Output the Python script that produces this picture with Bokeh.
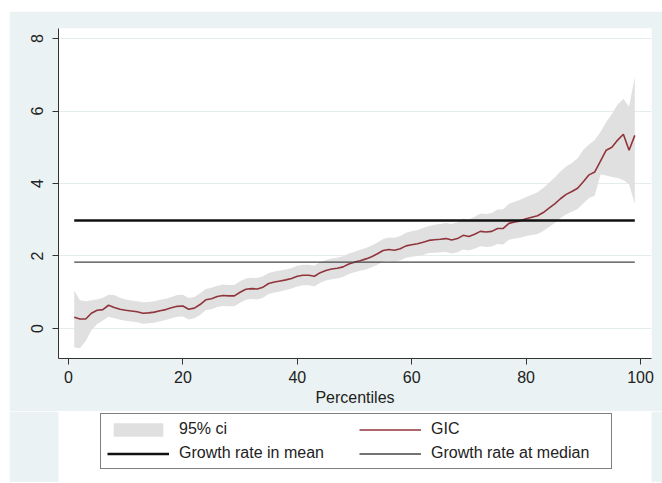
from bokeh.plotting import figure
from bokeh.models import Range1d, FixedTicker, Legend, LegendItem, Spacer
from bokeh.layouts import column, row
from bokeh.embed import file_html
from bokeh.resources import INLINE

# ---------------- data ----------------
percentiles = list(range(1, 100))

gic = [0.31, 0.26, 0.26, 0.42, 0.50, 0.52, 0.64, 0.58, 0.53, 0.50,
       0.48, 0.46, 0.42, 0.43, 0.45, 0.49, 0.52, 0.57, 0.61, 0.62,
       0.53, 0.56, 0.66, 0.79, 0.82, 0.88, 0.91, 0.90, 0.90, 1.00,
       1.08, 1.10, 1.09, 1.14, 1.24, 1.28, 1.31, 1.34, 1.38, 1.44,
       1.47, 1.47, 1.44, 1.54, 1.60, 1.64, 1.66, 1.70, 1.78, 1.83,
       1.87, 1.92, 1.98, 2.06, 2.15, 2.18, 2.16, 2.20, 2.28, 2.31,
       2.34, 2.38, 2.43, 2.45, 2.46, 2.48, 2.44, 2.48, 2.57, 2.54,
       2.60, 2.68, 2.66, 2.68, 2.76, 2.76, 2.90, 2.94, 2.97, 3.03,
       3.07, 3.11, 3.20, 3.32, 3.44, 3.58, 3.70, 3.78, 3.87, 4.05,
       4.24, 4.32, 4.62, 4.92, 5.00, 5.20, 5.36, 4.92, 5.33]

ci_upper = [1.05, 0.78, 0.75, 0.78, 0.80, 0.85, 0.93, 0.92, 0.85, 0.80,
            0.77, 0.75, 0.72, 0.73, 0.75, 0.79, 0.82, 0.87, 0.92, 0.93,
            0.84, 0.87, 0.97, 1.09, 1.12, 1.18, 1.21, 1.20, 1.20, 1.30,
            1.38, 1.40, 1.39, 1.44, 1.53, 1.57, 1.60, 1.63, 1.67, 1.73,
            1.76, 1.76, 1.73, 1.83, 1.89, 1.93, 1.95, 1.99, 2.07, 2.12,
            2.17, 2.22, 2.29, 2.37, 2.47, 2.51, 2.50, 2.55, 2.64, 2.68,
            2.72, 2.77, 2.83, 2.86, 2.88, 2.91, 2.88, 2.93, 3.03, 3.01,
            3.08, 3.17, 3.16, 3.19, 3.28, 3.29, 3.44, 3.50, 3.55, 3.63,
            3.69, 3.76, 3.88, 4.02, 4.17, 4.33, 4.47, 4.57, 4.70, 4.93,
            5.08, 5.20, 5.42, 5.70, 5.92, 6.18, 6.34, 6.12, 6.95]

ci_lower = [-0.52, -0.55, -0.35, -0.05, 0.12, 0.22, 0.32, 0.28, 0.24, 0.21,
            0.19, 0.17, 0.13, 0.14, 0.16, 0.20, 0.23, 0.28, 0.32, 0.33,
            0.25, 0.28, 0.37, 0.50, 0.53, 0.59, 0.62, 0.61, 0.61, 0.71,
            0.79, 0.81, 0.80, 0.85, 0.95, 0.99, 1.02, 1.06, 1.10, 1.16,
            1.19, 1.19, 1.16, 1.26, 1.32, 1.36, 1.38, 1.42, 1.50, 1.55,
            1.59, 1.63, 1.69, 1.76, 1.85, 1.87, 1.85, 1.88, 1.95, 1.98,
            2.00, 2.03, 2.08, 2.09, 2.10, 2.11, 2.07, 2.10, 2.18, 2.15,
            2.20, 2.27, 2.25, 2.26, 2.33, 2.32, 2.45, 2.48, 2.50, 2.55,
            2.58, 2.61, 2.69, 2.80, 2.91, 3.04, 3.15, 3.22, 3.30, 3.45,
            3.60, 3.66, 4.25, 4.22, 4.18, 4.15, 4.10, 3.98, 3.44]

mean_growth = 2.98
median_growth = 1.83

x_ticks = [0, 20, 40, 60, 80, 100]
y_ticks = [0, 2, 4, 6, 8]
x_title = "Percentiles"
legend_labels = ["95% ci", "GIC", "Growth rate in mean", "Growth rate at median"]

# ---------------- styles ----------------
BG = "#eaf2f3"
FONT = "Liberation Sans"
TXT = "#222222"
BAND = dict(fill_color="#e0e0e0")
GICS = dict(line_color="#90353b", line_width=1.6)
MEANS = dict(line_color="#111111", line_width=2.5)
MEDS = dict(line_color="#444444", line_width=1.4)


def draw_series(fig):
    band = fig.varea(x=percentiles, y1=ci_lower, y2=ci_upper, **BAND)
    gl = fig.line(x=percentiles, y=gic, **GICS)
    ml = fig.line(x=[percentiles[0], percentiles[-1]], y=[mean_growth, mean_growth], **MEANS)
    dl = fig.line(x=[percentiles[0], percentiles[-1]], y=[median_growth, median_growth], **MEDS)
    return band, gl, ml, dl


# ---------------- main chart ----------------
p = figure(width=653, height=400, output_backend="svg", toolbar_location=None,
           x_range=Range1d(-1.75, 101.92), y_range=Range1d(-0.83, 8.28),
           min_border_left=49, min_border_right=11, min_border_top=17,
           min_border_bottom=53, title=None)
p.border_fill_color = BG
p.background_fill_color = "white"
p.outline_line_color = None

draw_series(p)

p.xaxis.ticker = FixedTicker(ticks=x_ticks)
p.yaxis.ticker = FixedTicker(ticks=y_ticks)
for ax in (p.xaxis[0], p.yaxis[0]):
    ax.axis_line_color = "#333333"
    ax.axis_line_width = 1
    ax.major_tick_line_color = "#333333"
    ax.major_tick_out = 6
    ax.major_tick_in = 0
    ax.minor_tick_line_color = None
    ax.major_label_text_font = FONT
    ax.major_label_text_font_size = "16px"
    ax.major_label_text_color = TXT
p.yaxis.major_label_orientation = "vertical"
p.yaxis.major_label_standoff = 9
p.xaxis.major_label_standoff = 6
p.xaxis.axis_label = x_title
p.xaxis.axis_label_text_font = FONT
p.xaxis.axis_label_text_font_size = "16px"
p.xaxis.axis_label_text_font_style = "normal"
p.xaxis.axis_label_text_color = TXT
p.xaxis.axis_label_standoff = 3

p.xgrid.grid_line_color = None
p.ygrid.ticker = FixedTicker(ticks=y_ticks)
p.ygrid.grid_line_color = "#e4ecee"
p.ygrid.grid_line_width = 1

# ---------------- legend strip (same series, kept out of view) ----------------
q = figure(width=653, height=71, output_backend="svg", toolbar_location=None,
           x_range=Range1d(200, 300), y_range=Range1d(-0.83, 8.28),
           x_axis_type=None, y_axis_type=None, title=None,
           min_border_left=0, min_border_right=0, min_border_top=0, min_border_bottom=0)
q.border_fill_color = BG
q.background_fill_color = BG
q.background_fill_alpha = 0
q.outline_line_color = None
q.xgrid.grid_line_color = None
q.ygrid.grid_line_color = None
qb, qg, qm, qd = draw_series(q)

legend = Legend(items=[LegendItem(label=legend_labels[0], renderers=[qb]),
                       LegendItem(label=legend_labels[1], renderers=[qg]),
                       LegendItem(label=legend_labels[2], renderers=[qm]),
                       LegendItem(label=legend_labels[3], renderers=[qd])],
                location=(42, 13), orientation="horizontal", ncols=2,
                border_line_color="black", border_line_width=1,
                background_fill_color="white", background_fill_alpha=1.0,
                label_text_font=FONT, label_text_font_size="16px",
                label_text_color=TXT,
                glyph_width=62, glyph_height=17, label_standoff=10,
                label_width=174, spacing=6, padding=6, margin=0)
q.add_layout(legend)

layout = column(Spacer(height=11), row(Spacer(width=9), column(p, q)))
open("out.html", "w").write(file_html(layout, INLINE))
